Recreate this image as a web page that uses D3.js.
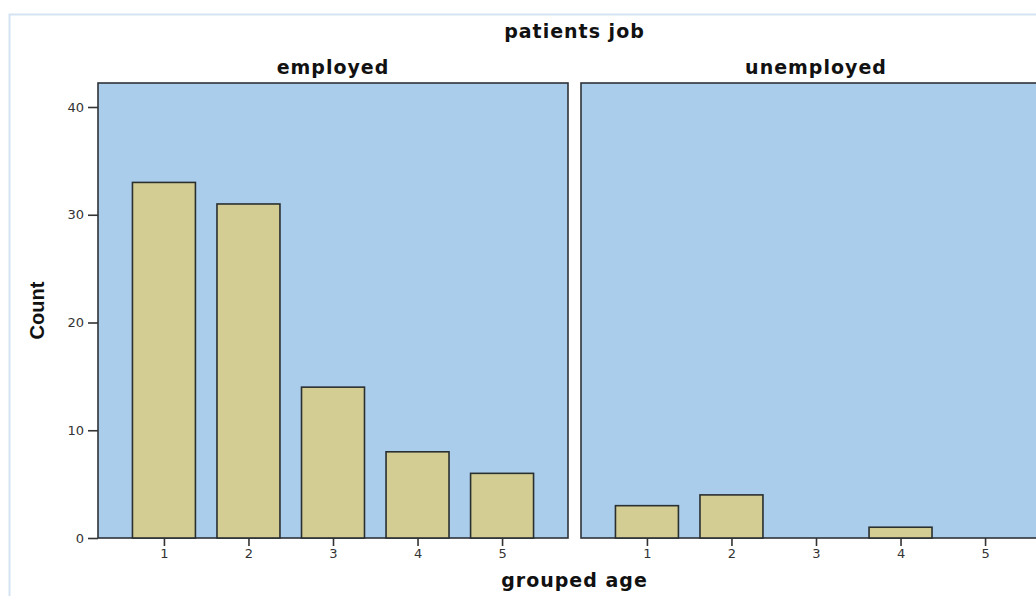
<!DOCTYPE html>
<html>
<head>
<meta charset="utf-8">
<script src="https://cdn.jsdelivr.net/npm/d3@7"></script>
<style>
  html, body { margin: 0; padding: 0; background: #ffffff; }
  svg { display: block; }
</style>
</head>
<body>
<script>
// ---- data ----
const panelTitle = "patients job";
const groups = ["employed", "unemployed"];
const ageGroups = ["1", "2", "3", "4", "5"];
const employedCounts = [33, 31, 14, 8, 6];
const unemployedCounts = [3, 4, 0, 1, 0];
const yTicks = [0, 10, 20, 30, 40];
const xTitle = "grouped age";
const yTitle = "Count";

const seriesByGroup = [employedCounts, unemployedCounts];

// ---- layout ----
const W = 1036, H = 596;
const panelW = 470, panelGap = 13;
const panelLeft = 98;
const plotTop = 83, plotBottom = 538;

const svg = d3.select("body").append("svg").attr("width", W).attr("height", H);

// outer frame
svg.append("rect")
  .attr("x", 9.5).attr("y", 14.5).attr("width", W + 20).attr("height", H + 20)
  .attr("fill", "none").attr("stroke", "#d4e3f3").attr("stroke-width", 2);

const y = d3.scaleLinear().domain([0, 40]).range([plotBottom, 107]);

const titleFont = "'DejaVu Sans', Verdana, sans-serif";
const tickFont = "'DejaVu Sans', Verdana, sans-serif";

// overall title
svg.append("text")
  .attr("x", panelLeft + panelW + panelGap / 2).attr("y", 38)
  .attr("text-anchor", "middle")
  .style("font-family", titleFont).style("font-weight", "bold")
  .style("font-size", "19px").style("letter-spacing", "1px")
  .attr("fill", "#111")
  .text(panelTitle);

groups.forEach((g, gi) => {
  const x0 = panelLeft + gi * (panelW + panelGap);
  const x = d3.scalePoint().domain(ageGroups).range([x0, x0 + panelW]).padding(0.78);
  const bw = x.step() * 0.745;
  const panel = svg.append("g");

  panel.append("rect")
    .attr("x", x0).attr("y", plotTop)
    .attr("width", panelW).attr("height", plotBottom - plotTop)
    .attr("fill", "#abcdec").attr("stroke", "#2e3338").attr("stroke-width", 1.6);

  panel.append("text")
    .attr("x", x0 + panelW / 2).attr("y", 74)
    .attr("text-anchor", "middle")
    .style("font-family", titleFont).style("font-weight", "bold")
    .style("font-size", "19px").style("letter-spacing", "1px")
    .attr("fill", "#111")
    .text(g);

  const vals = seriesByGroup[gi];
  panel.selectAll("rect.bar")
    .data(ageGroups.map((a, i) => ({ a, v: vals[i] })).filter(d => d.v > 0))
    .join("rect")
    .attr("class", "bar")
    .attr("x", d => x(d.a) - bw / 2)
    .attr("y", d => y(d.v))
    .attr("width", bw)
    .attr("height", d => y(0) - y(d.v))
    .attr("fill", "#d3cd94")
    .attr("stroke", "#2a2f30").attr("stroke-width", 1.6);

  // x axis
  const xAxis = d3.axisBottom(x).tickSize(8).tickPadding(3);
  const gx = panel.append("g").attr("transform", `translate(0,${plotBottom})`).call(xAxis);
  gx.select(".domain").remove();
  gx.selectAll(".tick line").attr("stroke", "#333").attr("stroke-width", 1.6);
  gx.selectAll(".tick text").attr("fill", "#333")
    .style("font-family", tickFont).style("font-size", "13px");
});

// y axis
const yAxis = d3.axisLeft(y).tickValues(yTicks).tickSize(10).tickPadding(4);
const gy = svg.append("g").attr("transform", `translate(${panelLeft},0)`).call(yAxis);
gy.select(".domain").remove();
gy.selectAll(".tick line").attr("stroke", "#333").attr("stroke-width", 1.6);
gy.selectAll(".tick text").attr("fill", "#333")
  .style("font-family", tickFont).style("font-size", "13px");

// axis titles
svg.append("text")
  .attr("transform", `translate(44,${(plotTop + plotBottom) / 2}) rotate(-90)`)
  .attr("text-anchor", "middle")
  .style("font-family", "'Liberation Sans Narrow', 'Arial Narrow', 'Liberation Sans', sans-serif")
  .style("font-weight", "bold").style("font-size", "20px")
  .attr("fill", "#111")
  .text(yTitle);

svg.append("text")
  .attr("x", panelLeft + panelW + panelGap / 2).attr("y", 587)
  .attr("text-anchor", "middle")
  .style("font-family", titleFont).style("font-weight", "bold")
  .style("font-size", "19px").style("letter-spacing", "1px")
  .attr("fill", "#111")
  .text(xTitle);
</script>
</body>
</html>
